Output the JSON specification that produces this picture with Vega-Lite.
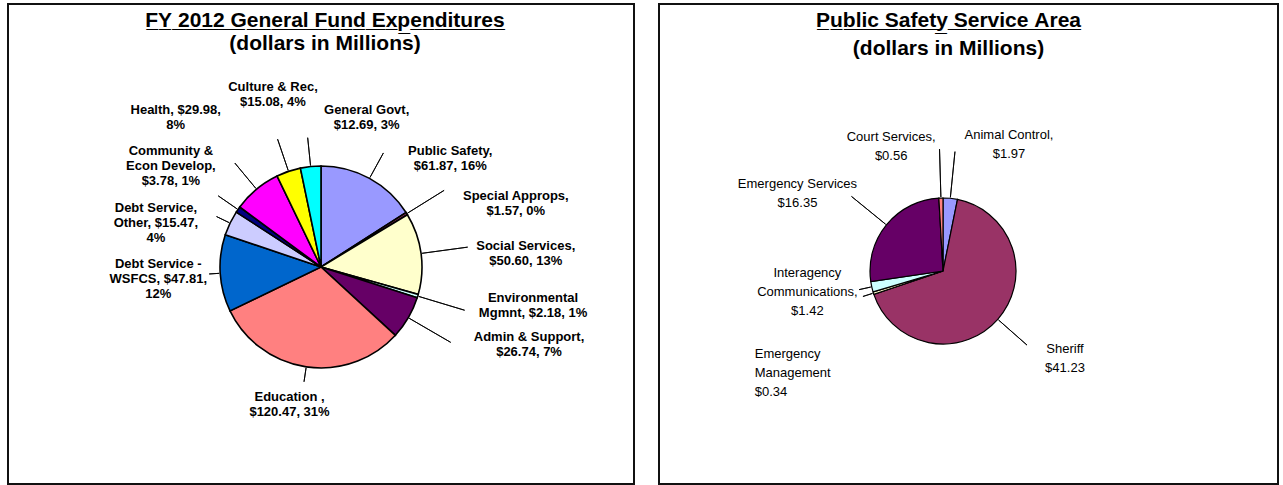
{
  "$schema": "https://vega.github.io/schema/vega-lite/v6.json",
  "padding": {"left": 7, "top": 3, "right": 0, "bottom": 0},
  "background": "white",
  "spacing": 25,
  "bounds": "flush",
  "config": {"view": {"stroke": null}, "font": "Liberation Sans"},
  "datasets": {
    "general": [
      {"idx": 0, "category": "Public Safety", "value": 61.87, "label": "Public Safety,\n$61.87, 16%"},
      {"idx": 1, "category": "Special Approps", "value": 1.57, "label": "Special Approps,\n$1.57, 0%"},
      {"idx": 2, "category": "Social Services", "value": 50.60, "label": "Social Services,\n$50.60, 13%"},
      {"idx": 3, "category": "Environmental Mgmnt", "value": 2.18, "label": "Environmental\nMgmnt, $2.18, 1%"},
      {"idx": 4, "category": "Admin & Support", "value": 26.74, "label": "Admin & Support,\n$26.74, 7%"},
      {"idx": 5, "category": "Education", "value": 120.47, "label": "Education ,\n$120.47, 31%"},
      {"idx": 6, "category": "Debt Service - WSFCS", "value": 47.81, "label": "Debt Service -\nWSFCS, $47.81,\n12%"},
      {"idx": 7, "category": "Debt Service, Other", "value": 15.47, "label": "Debt Service,\nOther, $15.47,\n4%"},
      {"idx": 8, "category": "Community & Econ Develop", "value": 3.78, "label": "Community &\nEcon Develop,\n$3.78, 1%"},
      {"idx": 9, "category": "Health", "value": 29.98, "label": "Health, $29.98,\n8%"},
      {"idx": 10, "category": "Culture & Rec", "value": 15.08, "label": "Culture & Rec,\n$15.08, 4%"},
      {"idx": 11, "category": "General Govt", "value": 12.69, "label": "General Govt,\n$12.69, 3%"}
    ],
    "safety": [
      {"idx": 0, "category": "Animal Control", "value": 1.97, "label": "Animal Control,\n$1.97"},
      {"idx": 1, "category": "Sheriff", "value": 41.23, "label": "Sheriff\n$41.23"},
      {"idx": 2, "category": "Emergency Management", "value": 0.34, "label": "Emergency\nManagement\n$0.34"},
      {"idx": 3, "category": "Interagency Communications", "value": 1.42, "label": "Interagency\nCommunications,\n$1.42"},
      {"idx": 4, "category": "Emergency Services", "value": 16.35, "label": "Emergency Services\n$16.35"},
      {"idx": 5, "category": "Court Services", "value": 0.56, "label": "Court Services,\n$0.56"}
    ],
    "frame": [{"panel": "frame"}]
  },
  "resolve": {"scale": {"color": "independent", "theta": "independent"}},
  "hconcat": [
    {
      "width": 626,
      "height": 480,
      "title": {
        "text": "F\u0332Y\u0332 \u03322\u03320\u03321\u03322\u0332 \u0332G\u0332e\u0332n\u0332e\u0332r\u0332a\u0332l\u0332 \u0332F\u0332u\u0332n\u0332d\u0332 \u0332E\u0332x\u0332p\u0332e\u0332n\u0332d\u0332i\u0332t\u0332u\u0332r\u0332e\u0332s\u0332",
        "subtitle": "(dollars in Millions)",
        "font": "Liberation Sans",
        "subtitleFont": "Liberation Sans",
        "fontSize": 21,
        "subtitleFontSize": 21,
        "fontWeight": "bold",
        "subtitleFontWeight": "bold",
        "color": "black",
        "subtitleColor": "black",
        "anchor": "middle",
        "frame": "group",
        "offset": -51,
        "subtitlePadding": 2,
        "dx": 4
      },
      "layer": [
        {
          "data": {"name": "frame"},
          "mark": {"type": "rect", "filled": false, "stroke": "#111111", "strokeWidth": 2, "x": 0, "y": 0, "x2": "width", "y2": "height"}
        },
        {
          "data": {"name": "general"},
          "mark": {"type": "arc", "radius": 101, "stroke": "black", "strokeWidth": 1.6, "y": 263},
          "encoding": {
            "theta": {"field": "value", "type": "quantitative", "stack": true},
            "order": {"field": "idx", "type": "quantitative"},
            "color": {
              "field": "category",
              "type": "nominal",
              "legend": null,
              "scale": {
                "domain": ["Public Safety", "Special Approps", "Social Services", "Environmental Mgmnt", "Admin & Support", "Education", "Debt Service - WSFCS", "Debt Service, Other", "Community & Econ Develop", "Health", "Culture & Rec", "General Govt"],
                "range": ["#9999FF", "#993366", "#FFFFCC", "#CCFFFF", "#660066", "#FF8080", "#0066CC", "#CCCCFF", "#000080", "#FF00FF", "#FFFF00", "#00FFFF"]
              }
            }
          }
        },
        {
          "data": {"name": "general"},
          "mark": {"type": "arc", "radius": {"expr": "[130,145,148,150,150,116,112,116,125,135,135,130][datum.idx]"}, "radius2": 102, "padAngle": 3, "filled": false, "stroke": "black", "strokeWidth": 0.9, "y": 263},
          "encoding": {
            "theta": {"field": "value", "type": "quantitative", "stack": true},
            "order": {"field": "idx", "type": "quantitative"}
          }
        },
        {
          "data": {"name": "general"},
          "mark": {
            "type": "text",
            "radius": 140,
            "y": 263,
            "font": "Liberation Sans",
            "fontSize": 13,
            "fontWeight": "bold",
            "color": "black",
            "lineBreak": "\n",
            "lineHeight": 15,
            "align": "center",
            "baseline": "middle",
            "dx": {"expr": "[62,76,66,78,87,-11,-23,-39,-35,-56,-3,60][datum.idx]"},
            "dy": {"expr": "[6.5,2.5,-2.5,-9.5,-0.5,-8.5,-12,2,-36,-49.5,-47.5,-17.5][datum.idx]"}
          },
          "encoding": {
            "theta": {"field": "value", "type": "quantitative", "stack": true},
            "order": {"field": "idx", "type": "quantitative"},
            "text": {"field": "label", "type": "nominal"}
          }
        }
      ]
    },
    {
      "width": 619,
      "height": 480,
      "title": {
        "text": "P\u0332u\u0332b\u0332l\u0332i\u0332c\u0332 \u0332S\u0332a\u0332f\u0332e\u0332t\u0332y\u0332 \u0332S\u0332e\u0332r\u0332v\u0332i\u0332c\u0332e\u0332 \u0332A\u0332r\u0332e\u0332a\u0332",
        "subtitle": "(dollars in Millions)",
        "font": "Liberation Sans",
        "subtitleFont": "Liberation Sans",
        "fontSize": 21,
        "subtitleFontSize": 21,
        "fontWeight": "bold",
        "subtitleFontWeight": "bold",
        "color": "black",
        "subtitleColor": "black",
        "anchor": "middle",
        "frame": "group",
        "offset": -56,
        "subtitlePadding": 7,
        "dx": -20
      },
      "layer": [
        {
          "data": {"name": "frame"},
          "mark": {"type": "rect", "filled": false, "stroke": "#111111", "strokeWidth": 2, "x": 0, "y": 0, "x2": "width", "y2": "height"}
        },
        {
          "data": {"name": "safety"},
          "mark": {"type": "arc", "radius": 73, "stroke": "black", "strokeWidth": 1.2, "x": 284, "y": 267},
          "encoding": {
            "theta": {"field": "value", "type": "quantitative", "stack": true},
            "order": {"field": "idx", "type": "quantitative"},
            "color": {
              "field": "category",
              "type": "nominal",
              "legend": null,
              "scale": {
                "domain": ["Animal Control", "Sheriff", "Emergency Management", "Interagency Communications", "Emergency Services", "Court Services"],
                "range": ["#9999FF", "#993366", "#FFFFCC", "#CCFFFF", "#660066", "#FF8080"]
              }
            }
          }
        },
        {
          "data": {"name": "safety"},
          "mark": {
            "type": "arc",
            "radius": {"expr": "[120,74,84,86,118,122][datum.idx]"},
            "radius2": 74,
            "padAngle": 3,
            "filled": false,
            "stroke": "black",
            "strokeOpacity": {"expr": "datum.idx == 1 ? 0 : 1"},
            "strokeWidth": 0.9,
            "x": 284,
            "y": 267
          },
          "encoding": {
            "theta": {"field": "value", "type": "quantitative", "stack": true},
            "order": {"field": "idx", "type": "quantitative"}
          }
        },
        {
          "data": {"name": "safety"},
          "transform": [
            {"stack": "value", "groupby": [], "sort": [{"field": "idx", "order": "ascending"}], "as": ["v0", "v1"]},
            {"filter": "datum.idx == 1"}
          ],
          "mark": {
            "type": "arc",
            "radius": 112,
            "radius2": 74,
            "padAngle": 3,
            "thetaOffset": 1.1,
            "theta2Offset": -1.1,
            "filled": false,
            "stroke": "black",
            "strokeWidth": 0.9,
            "x": 284,
            "y": 267
          },
          "encoding": {
            "theta": {"field": "v0", "type": "quantitative", "stack": null},
            "theta2": {"field": "v1"}
          }
        },
        {
          "data": {"name": "safety"},
          "mark": {
            "type": "text",
            "radius": 100,
            "x": 284,
            "y": 267,
            "font": "Liberation Sans",
            "fontSize": 13,
            "color": "black",
            "lineBreak": "\n",
            "lineHeight": 19,
            "align": {"expr": "datum.idx == 2 ? 'left' : 'center'"},
            "baseline": "middle",
            "dx": {"expr": "[56,47,-93,-38,-68,-49][datum.idx]"},
            "dy": {"expr": "[-36.5,12,53,-20,-24,-34][datum.idx]"}
          },
          "encoding": {
            "theta": {"field": "value", "type": "quantitative", "stack": true},
            "order": {"field": "idx", "type": "quantitative"},
            "text": {"field": "label", "type": "nominal"}
          }
        }
      ]
    }
  ]
}
